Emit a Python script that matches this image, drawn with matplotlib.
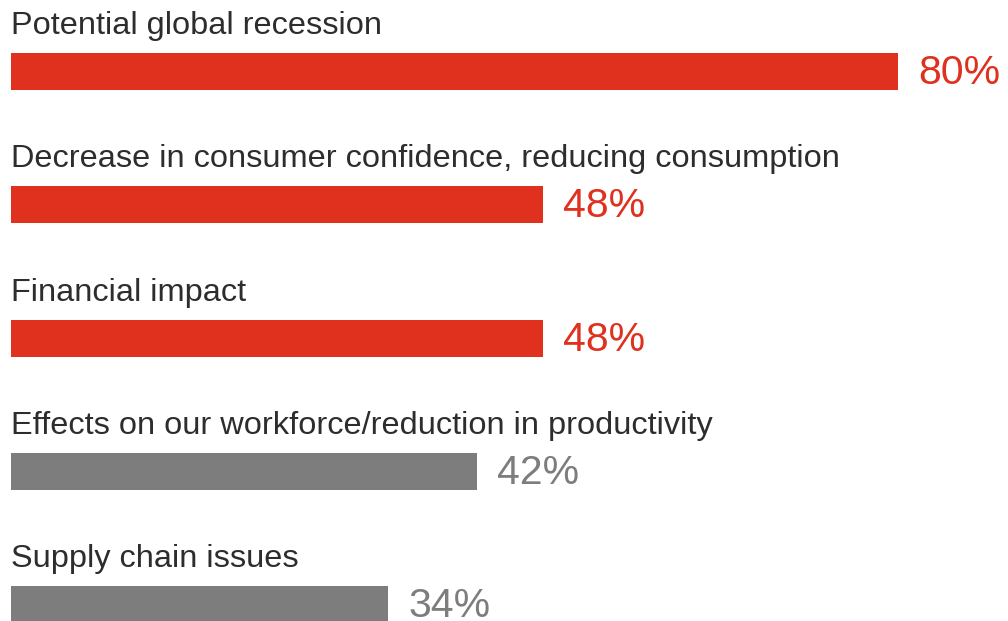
import matplotlib
matplotlib.use("Agg")
import matplotlib.pyplot as plt

categories = [
    "Potential global recession",
    "Decrease in consumer confidence, reducing consumption",
    "Financial impact",
    "Effects on our workforce/reduction in productivity",
    "Supply chain issues",
]
values = [80, 48, 48, 42, 34]
value_labels = ["80%", "48%", "48%", "42%", "34%"]
highlight = [True, True, True, False, False]

RED = "#E0301E"
GREY = "#7D7D7D"
TEXT = "#2D2D2D"

plt.rcParams["font.family"] = ["Liberation Sans", "DejaVu Sans"]

W, H, DPI = 1008, 621, 100
fig = plt.figure(figsize=(W / DPI, H / DPI), dpi=DPI)

left_px = 11
px_per_unit = 11.09
ax = fig.add_axes([left_px / W, 0, (W - left_px) / W, 1])
ax.set_xlim(0, (W - left_px) / px_per_unit)

row_px = 133.3
first_center_px = 71.5
ax.set_ylim((H - first_center_px) / row_px, -first_center_px / row_px)

bar_h = 37 / row_px
ypos = list(range(len(categories)))
colors = [RED if h else GREY for h in highlight]
ax.barh(ypos, values, height=bar_h, color=colors, left=0)

label_off = 37.5 / row_px
value_off = 12.5 / row_px
for y, cat, v, lab, c in zip(ypos, categories, values, value_labels, colors):
    ax.text(0, y - label_off, cat, fontsize=23.4, color=TEXT,
            ha="left", va="baseline")
    ax.annotate(lab, xy=(v, y + value_off), xytext=(14.5, 0),
                textcoords="offset points", fontsize=29.5, color=c,
                ha="left", va="baseline", annotation_clip=False)

ax.axis("off")
fig.savefig("out.png", dpi=DPI)
